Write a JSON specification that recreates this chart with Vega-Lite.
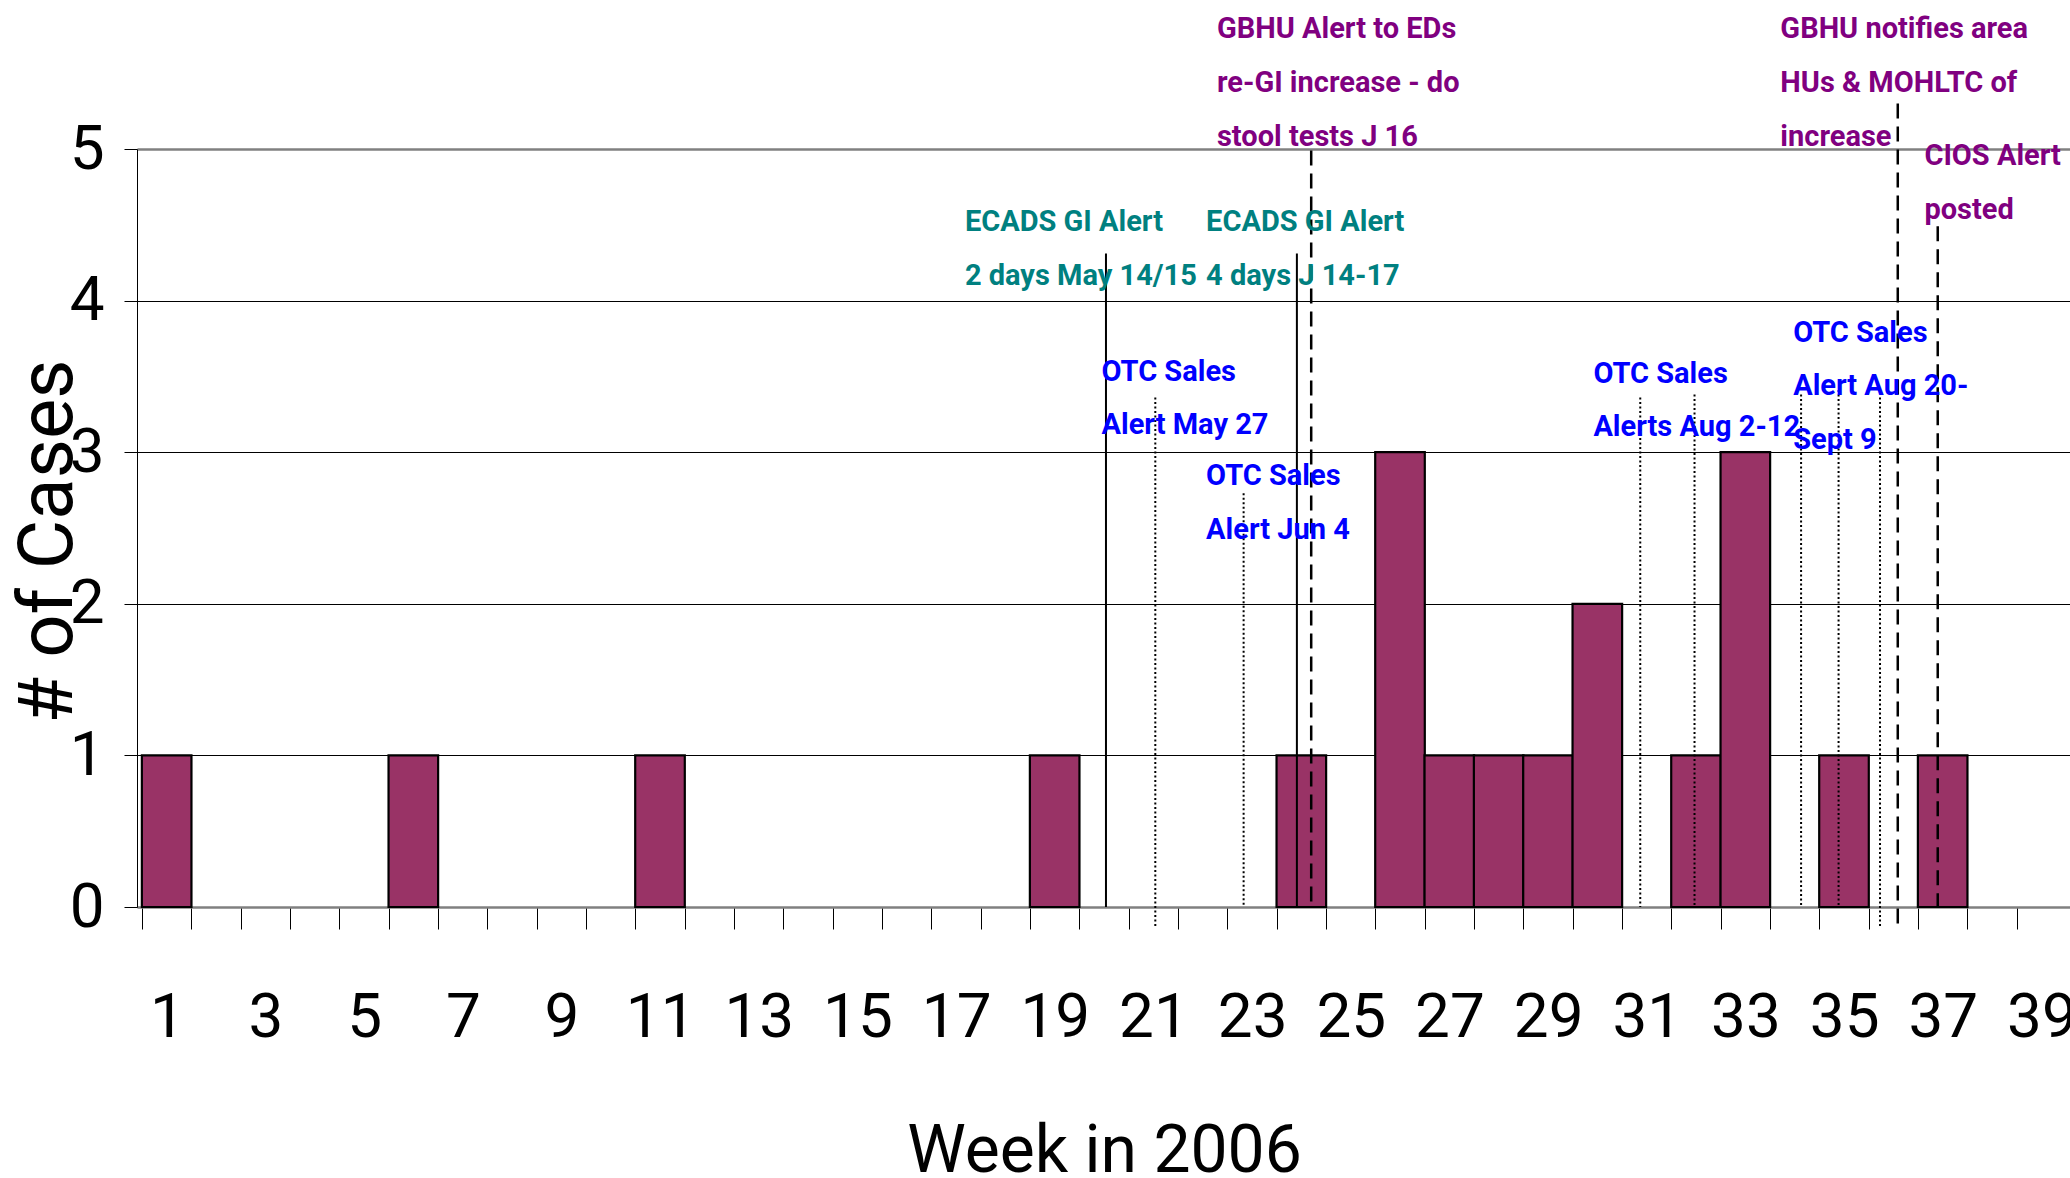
{
  "$schema": "https://vega.github.io/schema/vega-lite/v6.json",
  "width": 1934,
  "height": 758,
  "autosize": {"type": "none"},
  "padding": {"left": 137, "top": 149, "right": 0, "bottom": 271},
  "background": "white",
  "config": {"view": {"stroke": null}, "font": "Roboto"},
  "datasets": {
    "weekly": [
      {"week": 1, "cases": 1}, {"week": 2, "cases": 0}, {"week": 3, "cases": 0}, {"week": 4, "cases": 0},
      {"week": 5, "cases": 0}, {"week": 6, "cases": 1}, {"week": 7, "cases": 0}, {"week": 8, "cases": 0},
      {"week": 9, "cases": 0}, {"week": 10, "cases": 0}, {"week": 11, "cases": 1}, {"week": 12, "cases": 0},
      {"week": 13, "cases": 0}, {"week": 14, "cases": 0}, {"week": 15, "cases": 0}, {"week": 16, "cases": 0},
      {"week": 17, "cases": 0}, {"week": 18, "cases": 0}, {"week": 19, "cases": 1}, {"week": 20, "cases": 0},
      {"week": 21, "cases": 0}, {"week": 22, "cases": 0}, {"week": 23, "cases": 0}, {"week": 24, "cases": 1},
      {"week": 25, "cases": 0}, {"week": 26, "cases": 3}, {"week": 27, "cases": 1}, {"week": 28, "cases": 1},
      {"week": 29, "cases": 1}, {"week": 30, "cases": 2}, {"week": 31, "cases": 0}, {"week": 32, "cases": 1},
      {"week": 33, "cases": 3}, {"week": 34, "cases": 0}, {"week": 35, "cases": 1}, {"week": 36, "cases": 0},
      {"week": 37, "cases": 1}, {"week": 38, "cases": 0}, {"week": 39, "cases": 0}
    ],
    "solidLines": [
      {"week": 20.04, "cases": 4.31, "bottom": 0},
      {"week": 23.91, "cases": 4.31, "bottom": 0}
    ],
    "dashedLines": [
      {"week": 24.2, "cases": 4.99, "bottom": 0},
      {"week": 36.09, "cases": 5.3, "bottom": -0.14},
      {"week": 36.9, "cases": 4.49, "bottom": 0}
    ],
    "dottedLines": [
      {"week": 21.04, "cases": 3.36, "bottom": -0.14},
      {"week": 22.83, "cases": 2.73, "bottom": 0},
      {"week": 30.87, "cases": 3.36, "bottom": 0},
      {"week": 31.97, "cases": 3.38, "bottom": 0},
      {"week": 34.13, "cases": 3.38, "bottom": 0},
      {"week": 34.89, "cases": 3.41, "bottom": 0},
      {"week": 35.73, "cases": 3.36, "bottom": -0.14}
    ],
    "notes": [
      {"week": 22.29, "cases": 5.73, "source": "GBHU", "label": "GBHU Alert to EDs\nre-GI increase - do\nstool tests J 16"},
      {"week": 17.18, "cases": 4.456, "source": "ECADS", "label": "ECADS GI Alert\n2 days May 14/15"},
      {"week": 22.07, "cases": 4.456, "source": "ECADS", "label": "ECADS GI Alert\n4 days J 14-17"},
      {"week": 19.95, "cases": 3.471, "source": "OTC", "label": "OTC Sales\nAlert May 27"},
      {"week": 22.07, "cases": 2.782, "source": "OTC", "label": "OTC Sales\nAlert Jun 4"},
      {"week": 33.71, "cases": 5.73, "source": "GBHU", "label": "GBHU notifies area\nHUs & MOHLTC of\nincrease"},
      {"week": 36.63, "cases": 4.893, "source": "GBHU", "label": "CIOS Alert\nposted"},
      {"week": 29.92, "cases": 3.458, "source": "OTC", "label": "OTC Sales\nAlerts Aug 2-12"},
      {"week": 33.97, "cases": 3.728, "source": "OTC", "label": "OTC Sales\nAlert Aug 20-\nSept 9"}
    ]
  },
  "encoding": {
    "x": {
      "field": "week", "type": "quantitative",
      "scale": {"domain": [0.5, 39.5], "nice": false, "zero": false},
      "axis": {
        "values": [0.5,1.5,2.5,3.5,4.5,5.5,6.5,7.5,8.5,9.5,10.5,11.5,12.5,13.5,14.5,15.5,16.5,17.5,18.5,19.5,20.5,21.5,22.5,23.5,24.5,25.5,26.5,27.5,28.5,29.5,30.5,31.5,32.5,33.5,34.5,35.5,36.5,37.5,38.5],
        "labelExpr": "(datum.value + 0.5) % 2 == 1 ? format(datum.value + 0.5, 'd') : ''",
        "labelOffset": 24.8,
        "labelOverlap": false, "labelBound": false, "labelFlush": false,
        "labelFontSize": 62, "labelColor": "black", "labelPadding": 107, "labelBaseline": "alphabetic",
        "tickSize": 22, "tickColor": "black", "tickWidth": 1,
        "domainColor": "#808080", "domainWidth": 2.5,
        "grid": false,
        "title": "Week in 2006", "titleFontSize": 66, "titleFontWeight": "normal", "titleColor": "black",
        "titleBaseline": "alphabetic", "titleY": 264, "titleX": 967, "titleAnchor": "middle"
      }
    },
    "y": {
      "field": "cases", "type": "quantitative",
      "scale": {"domain": [0, 5], "nice": false},
      "axis": {
        "values": [0, 1, 2, 3, 4, 5],
        "labelFontSize": 62, "labelColor": "black", "labelPadding": 20,
        "tickSize": 13, "tickColor": "black", "tickWidth": 1,
        "domainColor": "black", "domainWidth": 1,
        "grid": true,
        "gridColor": {"condition": {"test": "datum.value === 5", "value": "#808080"}, "value": "black"},
        "gridWidth": {"condition": {"test": "datum.value === 5", "value": 2.5}, "value": 1},
        "title": "# of Cases", "titleFontSize": 76, "titleFontWeight": "normal", "titleColor": "black",
        "titleAngle": 270, "titleBaseline": "alphabetic", "titleAlign": "center",
        "titleX": -66, "titleY": 392
      }
    }
  },
  "layer": [
    {
      "data": {"name": "weekly"},
      "mark": {"type": "bar", "width": 49.59, "fill": "#993366", "stroke": "black", "strokeWidth": 2.2},
      "encoding": {
        "strokeOpacity": {"condition": {"test": "datum.cases == 0", "value": 0}, "value": 1}
      }
    },
    {
      "data": {"name": "solidLines"},
      "mark": {"type": "rule", "color": "black", "strokeWidth": 2},
      "encoding": {"y2": {"field": "bottom"}}
    },
    {
      "data": {"name": "dashedLines"},
      "mark": {"type": "rule", "color": "black", "strokeWidth": 2.5, "strokeDash": [15, 8]},
      "encoding": {"y2": {"field": "bottom"}}
    },
    {
      "data": {"name": "dottedLines"},
      "mark": {"type": "rule", "color": "black", "strokeWidth": 2, "strokeDash": [2, 2.5]},
      "encoding": {"y2": {"field": "bottom"}}
    },
    {
      "data": {"name": "notes"},
      "mark": {"type": "text", "align": "left", "baseline": "alphabetic", "fontWeight": "bold", "fontSize": 29, "lineHeight": 53.6, "lineBreak": "\n", "font": "Roboto"},
      "encoding": {
        "text": {"field": "label", "type": "nominal"},
        "color": {
          "field": "source", "type": "nominal", "legend": null,
          "scale": {"domain": ["ECADS", "OTC", "GBHU"], "range": ["#008080", "#0000FF", "#800080"]}
        }
      }
    }
  ]
}
